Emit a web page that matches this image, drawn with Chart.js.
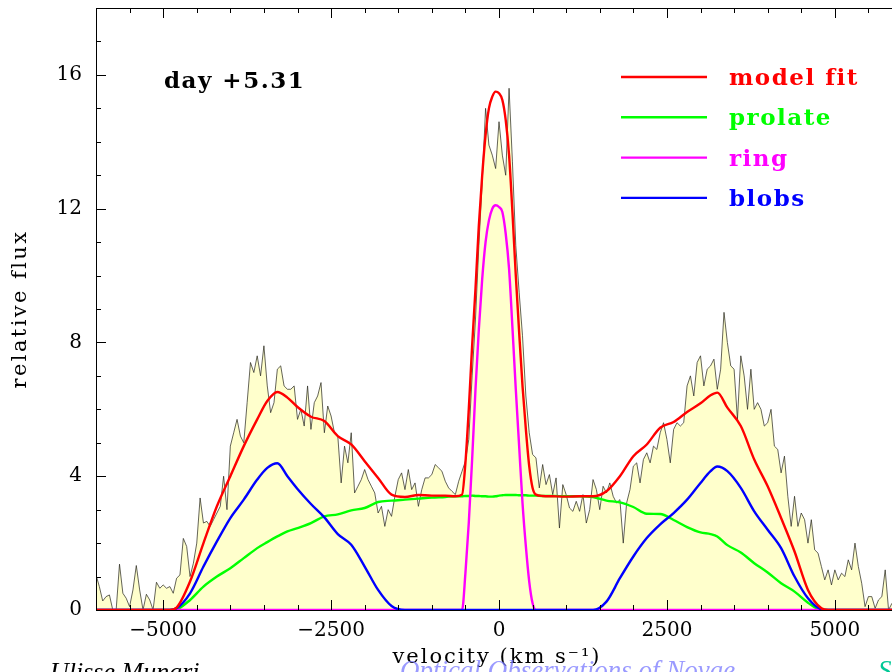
<!DOCTYPE html>
<html>
<head>
<meta charset="utf-8">
<script src="https://cdn.jsdelivr.net/npm/chart.js@4.4.1/dist/chart.umd.min.js"></script>
<style>
  html, body { margin: 0; padding: 0; background: #fff; overflow: hidden; }
  #wrap { width: 910px; height: 672px; }
</style>
</head>
<body>
<div id="wrap"><canvas id="spec" width="910" height="672"></canvas></div>
<script>
// observed spectrum, sampled every 50 km/s from -6000 to +6000
const obsVel = Array.from({ length: 241 }, (_, i) => -6000 + 50 * i);
const obsFlux = [
  1.05, 0.70, 0.27, 0.40, 0.45, 0.0, 0.0, 1.37, 0.5, 0.35,
  0.1, 0.6, 1.33, 0.6, 0.0, 0.47, 0.3, 0.0, 0.83, 0.65,
  0.75, 0.65, 0.7, 0.5, 0.95, 1.05, 2.14, 1.9, 1.0, 1.4,
  2.0, 3.35, 2.6, 2.65, 2.5, 2.7, 2.9, 3.1, 4.0, 3.0,
  4.9, 5.3, 5.7, 5.2, 5.0, 6.2, 7.4, 7.1, 7.6, 7.0,
  7.9, 6.7, 5.9, 6.2, 7.2, 7.3, 6.7, 6.6, 6.6, 6.7,
  5.7, 6.0, 5.5, 6.7, 5.4, 6.2, 6.4, 6.8, 5.3, 6.1,
  5.8, 5.3, 5.2, 3.8, 4.9, 4.4, 5.3, 3.5, 3.7, 3.9,
  4.2, 3.9, 3.7, 3.5, 2.9, 3.1, 2.5, 3.0, 2.8, 3.4,
  3.9, 4.1, 3.6, 4.2, 3.6, 3.8, 3.1, 3.6, 3.95, 3.95,
  4.05, 4.35, 4.25, 4.15, 3.85, 3.65, 3.55, 3.45, 3.85, 4.15,
  4.45, 5.1, 7.0, 8.7, 10.9, 12.8, 15.0, 13.9, 13.6, 13.2,
  14.6, 13.6, 13.0, 15.6, 13.4, 10.9, 9.5, 8.2, 6.4, 5.3,
  4.65, 4.55, 3.65, 4.35, 3.75, 4.05, 3.45, 3.95, 2.45, 3.75,
  3.45, 3.05, 2.95, 3.25, 2.95, 3.45, 2.6, 3.0, 3.9, 3.6,
  3.0, 3.7, 3.5, 3.8, 3.4, 3.2, 3.3, 2.0, 3.2, 3.6,
  4.3, 4.4, 3.8, 4.5, 4.7, 4.4, 4.9, 4.8, 5.3, 5.6,
  5.1, 4.4, 5.4, 5.6, 5.5, 5.6, 6.7, 7.0, 6.4, 7.4,
  7.6, 6.7, 7.2, 7.3, 7.5, 6.6, 7.2, 8.9, 8.0, 7.3,
  7.2, 5.7, 7.6, 7.0, 6.0, 7.2, 6.0, 6.2, 6.0, 5.5,
  5.6, 6.0, 4.9, 4.8, 4.1, 4.6, 3.4, 2.5, 3.4, 2.5,
  2.9, 2.7, 2.0, 2.7, 1.8, 1.7, 1.3, 0.9, 1.2, 0.75,
  1.2, 0.9, 1.1, 1.0, 1.5, 1.2, 2.0, 1.3, 0.8, 0.1,
  0.4, 0.4, 0.05, 0.3, 0.4, 1.2, 0.0, 0.2, 0.3, 0.1,
  0.2
];

// model components
const modelVel = [
  -6000, -4900, -4800, -4600, -4400, -4200, -4000, -3800, -3600, -3450,
  -3300, -3150, -3000, -2800, -2600, -2400, -2200, -2000, -1800, -1600,
  -1400, -1200, -1000, -800, -650, -550, -500, -450, -400, -350,
  -300, -250, -200, -150, -100, -50, 0, 50, 100, 150,
  200, 250, 300, 350, 400, 450, 500, 550, 650, 800,
  1000, 1200, 1400, 1600, 1800, 2000, 2200, 2400, 2600, 2800,
  3000, 3150, 3250, 3400, 3600, 3800, 4000, 4200, 4400, 4600,
  4800, 4900, 6000
];
const modelFit = [
  0, 0, 0.07, 0.85, 2.0, 3.1, 4.0, 4.9, 5.7, 6.25,
  6.52, 6.35, 6.07, 5.78, 5.65, 5.2, 4.95, 4.45, 3.95, 3.45,
  3.38, 3.44, 3.42, 3.42, 3.40, 3.45, 4.4, 6.0, 7.9, 9.6,
  11.5, 13.0, 14.2, 15.0, 15.35, 15.5, 15.45, 15.25, 14.65, 13.6,
  11.9, 10.0, 8.3, 6.7, 5.4, 4.3, 3.65, 3.45, 3.41, 3.40,
  3.39, 3.40, 3.40, 3.55, 4.0, 4.6, 4.95, 5.45, 5.62, 5.92,
  6.18, 6.42, 6.5, 6.05, 5.5, 4.5, 3.7, 2.75, 1.75, 0.6,
  0.05, 0, 0
];
const prolate = [
  0, 0, 0.02, 0.3, 0.7, 1.0, 1.25, 1.55, 1.85, 2.03,
  2.2, 2.35, 2.45, 2.6, 2.8, 2.86, 2.98, 3.05, 3.23, 3.27,
  3.30, 3.33, 3.36, 3.38, 3.40, 3.40, 3.41, 3.41, 3.42, 3.41,
  3.41, 3.40, 3.40, 3.39, 3.39, 3.40, 3.42, 3.43, 3.44, 3.44,
  3.44, 3.44, 3.43, 3.43, 3.43, 3.42, 3.42, 3.42, 3.41, 3.41,
  3.40, 3.40, 3.38, 3.27, 3.22, 3.08, 2.88, 2.87, 2.69, 2.48,
  2.32, 2.27, 2.2, 1.94, 1.72, 1.40, 1.12, 0.8, 0.55, 0.22,
  0, 0, 0
];
const ring = [
  0, 0, 0, 0, 0, 0, 0, 0, 0, 0,
  0, 0, 0, 0, 0, 0, 0, 0, 0, 0,
  0, 0, 0, 0, 0, 0, 1.1, 2.6, 4.5, 6.6,
  8.4, 9.9, 11.0, 11.65, 12.0, 12.1, 12.05, 11.9, 11.25, 10.2,
  8.45, 6.6, 4.9, 3.2, 1.9, 0.85, 0.2, 0, 0, 0,
  0, 0, 0, 0, 0, 0, 0, 0, 0, 0,
  0, 0, 0, 0, 0, 0, 0, 0, 0, 0,
  0, 0, 0
];
const blobs = [
  0, 0, 0.05, 0.5, 1.3, 2.05, 2.75, 3.3, 3.9, 4.25,
  4.39, 4.0, 3.62, 3.17, 2.77, 2.27, 1.95, 1.3, 0.6, 0.12,
  0, 0, 0, 0, 0, 0, 0, 0, 0, 0,
  0, 0, 0, 0, 0, 0, 0, 0, 0, 0,
  0, 0, 0, 0, 0, 0, 0, 0, 0, 0,
  0, 0, 0, 0.25, 0.95, 1.6, 2.15, 2.56, 2.9, 3.3,
  3.8, 4.15, 4.29, 4.15, 3.65, 2.95, 2.4, 1.85, 1.0, 0.35,
  0.02, 0, 0
];

const xTicks = [-5000, -2500, 0, 2500, 5000];
const yTicks = [0, 4, 8, 12, 16];
const xMinorStep = 500;
const yMinorStep = 1;

const serif = "'DejaVu Serif', serif";

const pts = (xs, ys) => ys.map((v, i) => ({ x: xs[i], y: v }));

function modelLine(label, color, data, order) {
  return {
    label: label,
    data: pts(modelVel, data),
    borderColor: color,
    borderWidth: 2.4,
    pointRadius: 0,
    fill: false,
    cubicInterpolationMode: 'monotone',
    order: order
  };
}

// frame, inward ticks, legend and labels drawn on top
const decor = {
  id: 'decor',
  afterDatasetsDraw(chart) {
    const { ctx, chartArea: a, scales: { x, y } } = chart;
    ctx.save();
    ctx.strokeStyle = '#000';
    ctx.lineWidth = 1;
    ctx.strokeRect(a.left + 0.5, a.top + 0.5, a.right - a.left, a.bottom - a.top);
    ctx.beginPath();
    for (let v = x.min; v <= x.max; v += xMinorStep) {
      const px = Math.round(x.getPixelForValue(v)) + 0.5;
      const len = xTicks.includes(v) ? 10 : 5;
      ctx.moveTo(px, a.bottom); ctx.lineTo(px, a.bottom - len);
      ctx.moveTo(px, a.top); ctx.lineTo(px, a.top + len);
    }
    for (let v = y.min; v <= y.max; v += yMinorStep) {
      const py = Math.round(y.getPixelForValue(v)) + 0.5;
      const len = yTicks.includes(v) ? 10 : 5;
      ctx.moveTo(a.left, py); ctx.lineTo(a.left + len, py);
      ctx.moveTo(a.right, py); ctx.lineTo(a.right - len, py);
    }
    ctx.stroke();

    // legend
    ctx.letterSpacing = '1.5px';
    const items = chart.data.datasets.filter(d => d.label !== 'observed');
    items.forEach((d, i) => {
      const ly = 77 + i * 40.3;
      ctx.strokeStyle = d.borderColor;
      ctx.lineWidth = 2.4;
      ctx.beginPath();
      ctx.moveTo(621, ly); ctx.lineTo(707, ly);
      ctx.stroke();
      ctx.fillStyle = d.borderColor;
      ctx.font = "bold 23px " + serif;
      ctx.textBaseline = 'alphabetic';
      ctx.fillText(d.label, 729, ly + 8);
    });

    ctx.fillStyle = '#000';
    ctx.fillText('day +5.31', 164, 88);
    ctx.restore();
  },
  afterDraw(chart) {
    const { ctx, chartArea: a, scales: { x, y } } = chart;
    ctx.save();
    // axis titles
    ctx.fillStyle = '#000';
    ctx.font = "21px " + serif;
    ctx.letterSpacing = '2px';
    ctx.textAlign = 'center';
    ctx.textBaseline = 'middle';
    ctx.fillText('velocity (km s\u207B\u00B9)', (x.left + x.right) / 2 - 2, 658);
    ctx.translate(21, (y.top + y.bottom) / 2);
    ctx.rotate(-Math.PI / 2);
    ctx.letterSpacing = '2.4px';
    ctx.fillText('relative flux', 0, 0);
    ctx.setTransform(1, 0, 0, 1, 0, 0);

    // credits along the bottom edge
    ctx.letterSpacing = '0px';
    ctx.textAlign = 'left';
    ctx.textBaseline = 'alphabetic';
    ctx.font = "italic 26px 'Liberation Serif', serif";
    ctx.fillStyle = '#000';
    ctx.fillText('Ulisse Munari', 50, 680);
    ctx.font = "italic 27px 'Liberation Serif', serif";
    ctx.fillStyle = 'rgba(120,120,255,0.75)';
    ctx.fillText('Optical Observations of Novae', 400, 679);
    ctx.fillStyle = 'rgb(0,200,150)';
    ctx.fillText('S', 878, 679);
    ctx.restore();
  }
};

new Chart(document.getElementById('spec'), {
  type: 'line',
  data: {
    datasets: [
      {
        label: 'observed',
        data: pts(obsVel, obsFlux),
        borderColor: 'rgba(40,40,30,0.9)',
        borderWidth: 0.8,
        backgroundColor: '#ffffcc',
        fill: 'origin',
        pointRadius: 0,
        tension: 0,
        order: 10
      },
      modelLine('model fit', '#ff0000', modelFit, 0),
      modelLine('prolate', '#00ff00', prolate, 3),
      modelLine('ring', '#ff00ff', ring, 2),
      modelLine('blobs', '#0000ff', blobs, 1)
    ]
  },
  options: {
    responsive: false,
    animation: false,
    layout: { padding: { left: 0, top: 8, right: 8, bottom: 0 } },
    plugins: { legend: { display: false }, tooltip: { enabled: false } },
    scales: {
      x: {
        type: 'linear',
        min: -6000,
        max: 6000,
        afterBuildTicks: s => { s.ticks = xTicks.map(v => ({ value: v })); },
        afterFit: s => { s.height = 62; s.paddingLeft = 0; s.paddingRight = 0; },
        grid: { display: false, drawTicks: false },
        border: { display: false },
        ticks: {
          autoSkip: false,
          maxRotation: 0,
          padding: 9,
          color: '#000',
          font: { family: serif, size: 20 },
          callback: v => (v < 0 ? '\u2212' : '') + Math.abs(v)
        }
      },
      y: {
        type: 'linear',
        min: 0,
        max: 18,
        afterBuildTicks: s => { s.ticks = yTicks.map(v => ({ value: v })); },
        afterFit: s => { s.width = 96; s.paddingTop = 0; s.paddingBottom = 0; },
        grid: { display: false, drawTicks: false },
        border: { display: false },
        ticks: {
          padding: 14,
          color: '#000',
          font: { family: serif, size: 20 },
          callback: v => String(v)
        }
      }
    }
  },
  plugins: [decor]
});
</script>
</body>
</html>
